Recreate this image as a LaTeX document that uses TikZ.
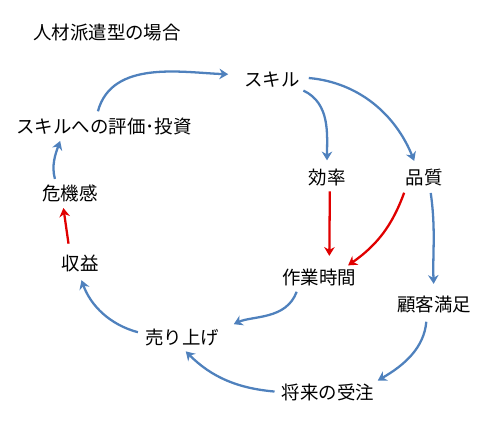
\documentclass[tikz,border=0pt]{standalone}
\usepackage{fontspec}
\newfontfamily\cjk{Noto Sans CJK JP}
\usetikzlibrary{arrows.meta}
\definecolor{flowblue}{RGB}{79,129,189}
\definecolor{flowred}{RGB}{224,0,0}

\begin{document}
\begin{tikzpicture}[x=0.02cm,y=0.02cm,
  lbl/.style={font=\cjk\fontsize{10.5}{12}\selectfont,inner sep=1pt},
  blu/.style={draw=flowblue,line width=1.3pt,-{Stealth[length=5pt,width=6pt]}},
  rd/.style={draw=flowred,line width=1.3pt,-{Stealth[length=5pt,width=6pt]}}]
  % \draw[gray!20](0,0)grid[step=50](500,-439);
  \useasboundingbox(0,0)rectangle(500,-439);
  \node[lbl](title)at(107,-33){人材派遣型の場合};
  \node[lbl](sk)at(272,-80){スキル};
  \node[lbl](ev)at(104,-127){スキルへの評価･投資};
  \node[lbl](kk)at(70,-193){危機感};
  \node[lbl](sy)at(80,-263){収益};
  \node[lbl](kr)at(327,-178){効率};
  \node[lbl](hs)at(424,-178){品質};
  \node[lbl](sg)at(319,-277){作業時間};
  \node[lbl](km)at(434,-305){顧客満足};
  \node[lbl](ur)at(182,-337){売り上げ};
  \node[lbl](sr)at(328,-392){将来の受注};
  \draw[blu,shorten <=3pt,shorten >=8pt](ev.125)to[out=75,in=178](sk.170);
  \draw[blu,shorten <=2pt,shorten >=2pt](kk.143)to[out=105,in=-110](ev.194);
  \draw[rd,shorten <=5pt,shorten >=2.5pt](sy.134)--(kk.236);
  \draw[blu,shorten <=3pt,shorten >=4pt](ur.175)to[out=165,in=-70](sy.265);
  \draw[blu,shorten <=2.5pt,shorten >=8pt](sg.207)to[out=-110,in=25](ur.10);
  \draw[blu,shorten <=3pt,shorten >=3pt](sr.west)to[out=175,in=-45](ur.south);
  \draw[blu,shorten <=3.5pt,shorten >=1pt](km.236)to[out=-95,in=30](sr.north east);
  \draw[blu,shorten <=1pt,shorten >=4pt](sk.south east)to[out=-25,in=90](kr.north);
  \draw[blu,shorten <=4pt,shorten >=4pt](sk.5)to[out=-5,in=112](hs.124);
  \draw[rd,shorten <=1.5pt,shorten >=6pt](kr.-75)--(sg.46);
  \draw[rd,shorten <=2.5pt,shorten >=1pt](hs.210)to[out=-110,in=35](sg.21);
  \draw[blu,shorten <=2.5pt,shorten >=6pt](hs.-60)to[out=-82,in=92](km.north);
\end{tikzpicture}
\end{document}
